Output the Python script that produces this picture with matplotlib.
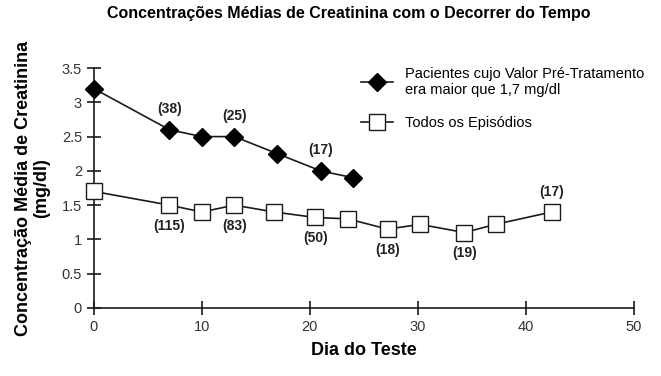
import matplotlib.pyplot as plt
from matplotlib.lines import Line2D

plt.rcParams['font.family'] = ['Liberation Sans', 'DejaVu Sans']

dias_pre = [0, 7, 10, 13, 17, 21, 24]
creat_pre = [3.2, 2.6, 2.5, 2.5, 2.25, 2.0, 1.9]

dias_todos = [0, 7, 10, 13, 16.7, 20.5, 23.5, 27.2, 30.2, 34.3, 37.2, 42.4]
creat_todos = [1.7, 1.5, 1.4, 1.5, 1.4, 1.32, 1.3, 1.15, 1.22, 1.1, 1.22, 1.4]

# rótulos (n) acima / abaixo dos pontos
rot_pre = {1: '(38)', 3: '(25)', 5: '(17)'}
rot_todos_baixo = {1: '(115)', 3: '(83)', 5: '(50)', 7: '(18)', 9: '(19)'}
rot_todos_cima = {11: '(17)'}

fig = plt.figure(figsize=(6.61, 3.76), dpi=100)
ax = fig.add_axes([0.142, 0.181, 0.817, 0.638])

cor = '#1a1a1a'
ax.plot(dias_pre, creat_pre, color=cor, lw=1.2, marker='D', ms=9,
        mfc='black', mec='black', zorder=3, clip_on=False)
ax.plot(dias_todos, creat_todos, color=cor, lw=1.2, marker='s', ms=11,
        mfc='white', mec=cor, mew=1.0, zorder=3, clip_on=False)

for i, t in rot_pre.items():
    ax.annotate(t, (dias_pre[i], creat_pre[i]), xytext=(0, 10),
                textcoords='offset points', ha='center', va='bottom',
                fontsize=10, fontweight='bold', color='#222222')
for i, t in rot_todos_baixo.items():
    ax.annotate(t, (dias_todos[i], creat_todos[i]), xytext=(0, -10),
                textcoords='offset points', ha='center', va='top',
                fontsize=10, fontweight='bold', color='#222222')
for i, t in rot_todos_cima.items():
    ax.annotate(t, (dias_todos[i], creat_todos[i]), xytext=(0, 9),
                textcoords='offset points', ha='center', va='bottom',
                fontsize=10, fontweight='bold', color='#222222')

ax.set_xlim(0, 50)
ax.set_ylim(0, 3.5)
ax.set_xticks([0, 10, 20, 30, 40, 50])
ax.set_yticks([0, 0.5, 1, 1.5, 2, 2.5, 3, 3.5])
ax.set_yticklabels(['0', '0.5', '1', '1.5', '2', '2.5', '3', '3.5'])
ax.tick_params(direction='inout', length=10, width=1.2, color=cor,
               labelsize=10.5, labelcolor='#333333')
for s in ['top', 'right']:
    ax.spines[s].set_visible(False)
for s in ['left', 'bottom']:
    ax.spines[s].set_color(cor)
    ax.spines[s].set_linewidth(1.2)

ax.set_xlabel('Dia do Teste', fontsize=13, fontweight='bold', labelpad=6)
ax.set_ylabel('Concentração Média de Creatinina\n(mg/dl)', fontsize=13,
              fontweight='bold', linespacing=1.1, labelpad=8)

fig.suptitle('Concentrações Médias de Creatinina com o Decorrer do Tempo',
             x=0.528, y=0.985, fontsize=11.5, fontweight='bold')

handles = [
    Line2D([], [], color=cor, lw=1.2, marker='D', ms=9, mfc='black', mec='black'),
    Line2D([], [], color=cor, lw=1.2, marker='s', ms=11, mfc='white', mec=cor),
]
ax.legend(handles, ['Pacientes cujo Valor Pré-Tratamento\nera maior que 1,7 mg/dl',
                    'Todos os Episódios'],
          loc='upper left', bbox_to_anchor=(0.47, 1.06), frameon=False,
          fontsize=10.5, handlelength=2.2, labelspacing=1.3)

fig.savefig('out.png', dpi=100)
